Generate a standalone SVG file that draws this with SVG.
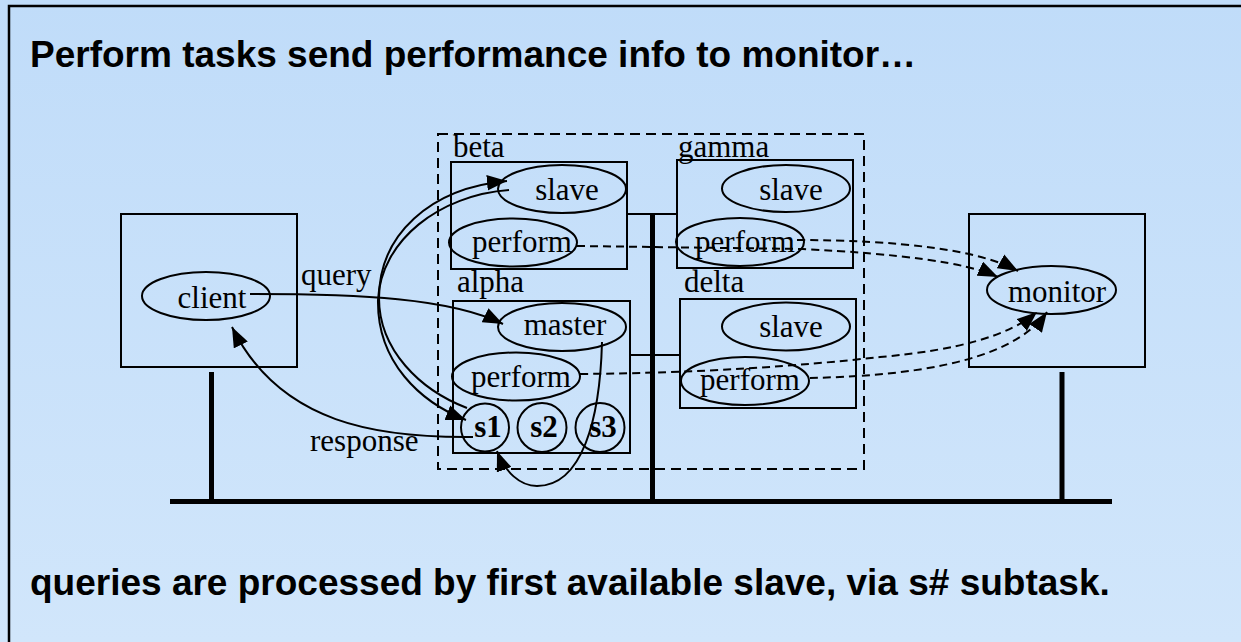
<svg xmlns="http://www.w3.org/2000/svg" width="1241" height="642" viewBox="0 0 1241 642">
<defs>
<linearGradient id="bg" x1="0" y1="0" x2="0" y2="1">
<stop offset="0" stop-color="#c0dcf9"/>
<stop offset="1" stop-color="#d1e6fb"/>
</linearGradient>
<marker id="arr" markerUnits="userSpaceOnUse" markerWidth="20" markerHeight="16" viewBox="0 0 18 14" refX="18" refY="7" orient="auto">
<path d="M0,0 L18,7 L0,14 z" fill="#000"/>
</marker>
</defs>
<style>
.box{fill:none;stroke:#000;stroke-width:2}
.ell{fill:none;stroke:#000;stroke-width:2}
.lbl{font-family:"Liberation Serif","Times New Roman",serif;font-size:31px;fill:#000}
.mid{text-anchor:middle}
.bold{font-weight:bold}
.head{font-family:"Liberation Sans",Arial,sans-serif;font-size:37px;font-weight:bold;fill:#000}
.net{stroke:#000;stroke-width:5;fill:none}
.thin{stroke:#000;stroke-width:2;fill:none}
.edge{stroke:#000;stroke-width:2;fill:none;marker-end:url(#arr)}
.dash{stroke:#000;stroke-width:2;fill:none;stroke-dasharray:8,5;marker-end:url(#arr)}
</style>
<rect x="0" y="0" width="1241" height="642" fill="url(#bg)"/>
<rect x="9" y="6" width="1300" height="700" fill="none" stroke="#000" stroke-width="2.5"/>

<text class="head" x="30" y="67">Perform tasks send performance info to monitor…</text>
<text class="head" x="30" y="595">queries are processed by first available slave, via s# subtask.</text>

<g id="network">
<line class="net" x1="170" y1="501.5" x2="1112" y2="501.5"/>
<line class="net" x1="211.5" y1="372" x2="211.5" y2="501"/>
<line class="net" x1="652.5" y1="214" x2="652.5" y2="501"/>
<line class="net" x1="1062" y1="372" x2="1062" y2="501"/>
<line class="thin" x1="627" y1="214" x2="677" y2="214"/>
<line class="thin" x1="630" y1="355" x2="680" y2="355"/>
</g>

<g id="cluster">
<rect x="438" y="134" width="426" height="335" fill="none" stroke="#000" stroke-width="2" stroke-dasharray="10,6"/>
</g>

<g id="client-host">
<rect class="box" x="121" y="214" width="176" height="153"/>
</g>
<g id="client">
<ellipse class="ell" cx="206" cy="296" rx="64" ry="24"/>
<text class="lbl mid" x="212" y="308">client</text>
</g>

<g id="monitor-host">
<rect class="box" x="969" y="214" width="176" height="153"/>
</g>
<g id="monitor">
<ellipse class="ell" cx="1051.5" cy="290" rx="64.5" ry="24"/>
<text class="lbl mid" x="1057" y="302">monitor</text>
</g>

<g id="beta">
<text class="lbl" x="453" y="157">beta</text>
<rect class="box" x="451" y="162" width="176" height="107"/>
</g>
<g id="beta-slave">
<ellipse class="ell" cx="562" cy="189" rx="64" ry="24"/>
<text class="lbl mid" x="567" y="200">slave</text>
</g>
<g id="beta-perform">
<ellipse class="ell" cx="513" cy="242.5" rx="64" ry="24"/>
<text class="lbl mid" x="522" y="252">perform</text>
</g>

<g id="gamma">
<text class="lbl" x="678" y="157">gamma</text>
<rect class="box" x="677" y="160" width="176" height="108"/>
</g>
<g id="gamma-slave">
<ellipse class="ell" cx="786" cy="188.5" rx="64" ry="23.5"/>
<text class="lbl mid" x="791" y="200">slave</text>
</g>
<g id="gamma-perform">
<ellipse class="ell" cx="740" cy="242" rx="64" ry="24"/>
<text class="lbl mid" x="745" y="252">perform</text>
</g>

<g id="alpha">
<text class="lbl" x="457" y="292">alpha</text>
<rect class="box" x="453" y="301" width="177" height="152"/>
</g>
<g id="master">
<ellipse class="ell" cx="562" cy="327" rx="64" ry="24"/>
<text class="lbl mid" x="565" y="335">master</text>
</g>
<g id="alpha-perform">
<ellipse class="ell" cx="516" cy="376.5" rx="64" ry="24"/>
<text class="lbl mid" x="521" y="387">perform</text>
</g>
<g id="s1">
<circle class="ell" cx="485" cy="427.5" r="24"/>
<text class="lbl mid bold" x="488" y="437">s1</text>
</g>
<g id="s2">
<circle class="ell" cx="542" cy="427.5" r="24.5"/>
<text class="lbl mid bold" x="544" y="437">s2</text>
</g>
<g id="s3">
<circle class="ell" cx="600" cy="427.5" r="24.5"/>
<text class="lbl mid bold" x="603" y="437">s3</text>
</g>

<g id="delta">
<text class="lbl" x="684" y="292">delta</text>
<rect class="box" x="680" y="299" width="176" height="109"/>
</g>
<g id="delta-slave">
<ellipse class="ell" cx="786" cy="326.5" rx="64" ry="24"/>
<text class="lbl mid" x="791" y="337">slave</text>
</g>
<g id="delta-perform">
<ellipse class="ell" cx="745" cy="381" rx="64" ry="24"/>
<text class="lbl mid" x="750" y="390">perform</text>
</g>

<g id="connectors">
<path class="edge" d="M250,294 C 360,294 450,298 503,324"/>
<text class="lbl" x="301" y="285">query</text>
<path class="edge" d="M473,437 C 380,438 280,425 232,327"/>
<text class="lbl" x="310" y="451">response</text>
<path class="edge" d="M467,408 C 420,390 379,350 379,298 C 379,235 430,188 507,181"/>
<path class="edge" d="M509,190 C 440,195 381,240 378,300 C 377,362 420,402 466,420"/>
<path class="edge" d="M602,342 C 600,420 582,486 537,486 C 520,486 505,472 497,451"/>
<path class="dash" d="M797,240 C 900,240 980,250 1018,271"/>
<path class="dash" d="M577,246 L 803,249 C 900,254 965,262 998,277"/>
<path class="dash" d="M580,374 C 700,373 800,366 880,357 C 960,350 1010,335 1037,312"/>
<path class="dash" d="M810,378 C 900,376 1010,365 1047,312"/>
</g>
</svg>
